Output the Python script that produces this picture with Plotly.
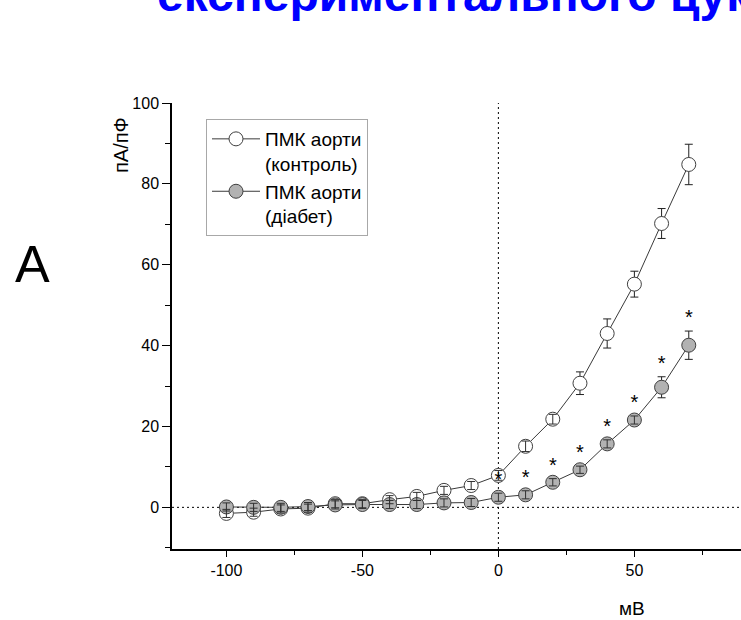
import plotly.graph_objects as go
import numpy as np

# ---------------- data ----------------
voltage = [-100, -90, -80, -70, -60, -50, -40, -30, -20, -10, 0, 10, 20, 30, 40, 50, 60, 70]
control = [-1.5, -1.2, -0.4, -0.2, 0.9, 0.9, 1.9, 2.7, 4.2, 5.4, 7.9, 15.1, 21.8, 30.7, 43.0, 55.2, 70.2, 84.8]
control_err = [1.0, 1.0, 1.0, 1.0, 1.0, 1.0, 1.0, 1.0, 1.0, 1.0, 1.2, 1.3, 1.2, 2.8, 3.6, 3.2, 3.7, 5.0]
diabetes = [0.1, 0.0, 0.0, 0.2, 0.6, 0.7, 0.7, 0.7, 1.1, 1.2, 2.5, 3.1, 6.2, 9.3, 15.7, 21.6, 29.7, 40.1]
diabetes_err = [1.0, 1.0, 1.0, 1.0, 1.0, 1.0, 1.0, 1.0, 1.0, 1.0, 1.0, 1.0, 0.9, 0.9, 1.0, 1.0, 2.6, 3.5]
signif_voltage = [0, 10, 20, 30, 40, 50, 60, 70]

x_ticks = [-100, -50, 0, 50]
x_tick_labels = ["-100", "-50", "0", "50"]
y_ticks = [0, 20, 40, 60, 80, 100]
y_tick_labels = ["0", "20", "40", "60", "80", "100"]

name_control = "ПМК аорти<br>(контроль)"
name_diabetes = "ПМК аорти<br>(діабет)"
title_text = "експериментального цукрового діабету"
y_title = "пА/пФ"
x_title = "мВ"
panel_label = "A"

# ---------------- layout geometry ----------------
W, H = 741, 620
ML, MR, MT, MB = 172, 0, 103, 71
PW, PH = W - ML - MR, H - MT - MB


def px_x(p):
    return (p - ML) / PW


def px_y(p):
    return (H - MB - p) / PH


FONT = "Liberation Sans, Arial, sans-serif"
LINE_COL = "#3a3a3a"
MSIZE = 14

v = np.array(voltage)
c = np.array(control)
ce = np.array(control_err)
d = np.array(diabetes)
de = np.array(diabetes_err)

fig = go.Figure()

fig.add_trace(go.Scatter(
    x=v, y=c, name=name_control, mode="lines+markers",
    line=dict(color=LINE_COL, width=1),
    marker=dict(symbol="circle", size=MSIZE, color="white", line=dict(color="#404040", width=1)),
    error_y=dict(type="data", array=ce, visible=True, color="#202020", thickness=1, width=4),
))
fig.add_trace(go.Scatter(
    x=v, y=d, name=name_diabetes, mode="lines+markers",
    line=dict(color=LINE_COL, width=1),
    marker=dict(symbol="circle", size=MSIZE, color="#b2b2b2", line=dict(color="#404040", width=1)),
    error_y=dict(type="data", array=de, visible=True, color="#202020", thickness=1, width=4),
))

# small error bars are drawn over the symbols (crosshair look)
small_c = ce * (PH / 110.3) < MSIZE / 2
small_d = de * (PH / 110.3) < MSIZE / 2
for xs, ys, es in [(v[small_c], c[small_c], ce[small_c]), (v[small_d], d[small_d], de[small_d])]:
    fig.add_trace(go.Scatter(
        x=xs, y=ys, mode="markers", showlegend=False, hoverinfo="skip",
        marker=dict(size=MSIZE, opacity=0),
        error_y=dict(type="data", array=es, visible=True, color="#303030", thickness=1, width=4),
    ))

# significance asterisks above the diabetes curve
sig_mask = np.isin(v, signif_voltage)
fig.add_trace(go.Scatter(
    x=v[sig_mask], y=d[sig_mask] + de[sig_mask] + 3.0, mode="text", text=["*"] * int(sig_mask.sum()),
    textposition="middle center", textfont=dict(size=20, color="black", family=FONT),
    showlegend=False, hoverinfo="skip",
))

# dotted reference lines
fig.add_shape(type="line", xref="x", yref="paper", x0=0, x1=0, y0=0, y1=1,
              line=dict(color="black", width=1, dash="2px,3px"), layer="below")
fig.add_shape(type="line", xref="paper", yref="y", x0=0, x1=1, y0=0, y1=0,
              line=dict(color="black", width=1, dash="2px,3px"), layer="below")

fig.update_xaxes(
    range=[-120, 89.2], tickvals=x_ticks, ticktext=x_tick_labels,
    ticks="outside", ticklen=6, tickwidth=1, tickcolor="black",
    showline=True, linecolor="black", linewidth=1.5, showgrid=False, zeroline=False,
    tickfont=dict(family=FONT, size=16, color="black"),
    minor=dict(dtick=25, tick0=-100, ticks="outside", ticklen=4, tickwidth=1, tickcolor="black", showgrid=False),
)
fig.update_yaxes(
    range=[-10.3, 100], tickvals=y_ticks, ticktext=y_tick_labels,
    ticks="outside", ticklen=8, tickwidth=1, tickcolor="black",
    showline=True, linecolor="black", linewidth=1.5, showgrid=False, zeroline=False,
    tickfont=dict(family=FONT, size=16, color="black"),
    minor=dict(dtick=10, tick0=0, ticks="outside", ticklen=5, tickwidth=1, tickcolor="black", showgrid=False),
)

fig.update_layout(
    width=W, height=H,
    margin=dict(l=ML, r=MR, t=MT, b=MB, pad=0),
    paper_bgcolor="white", plot_bgcolor="white",
    font=dict(family=FONT, color="black"),
    legend=dict(
        x=px_x(206), y=px_y(119), xanchor="left", yanchor="top",
        bordercolor="#a8a8a8", borderwidth=1, bgcolor="white",
        font=dict(family=FONT, size=19, color="black"),
        valign="top", itemwidth=48, tracegroupgap=0,
    ),
    annotations=[
        dict(text=f"<b>{title_text}</b>", xref="paper", yref="paper", x=px_x(155), y=px_y(-6),
             xanchor="left", yanchor="middle", showarrow=False,
             font=dict(family=FONT, size=48, color="#0000ff")),
        dict(text=y_title, xref="paper", yref="paper", x=px_x(121), y=px_y(145), textangle=-90,
             xanchor="center", yanchor="middle", showarrow=False,
             font=dict(family=FONT, size=20, color="black")),
        dict(text=x_title, xref="paper", yref="paper", x=px_x(632), y=px_y(608),
             xanchor="center", yanchor="middle", showarrow=False,
             font=dict(family=FONT, size=19, color="black")),
        dict(text=panel_label, xref="paper", yref="paper", x=px_x(32), y=px_y(264),
             xanchor="center", yanchor="middle", showarrow=False,
             font=dict(family=FONT, size=52, color="black")),
    ],
)

fig.write_html("out.html")
